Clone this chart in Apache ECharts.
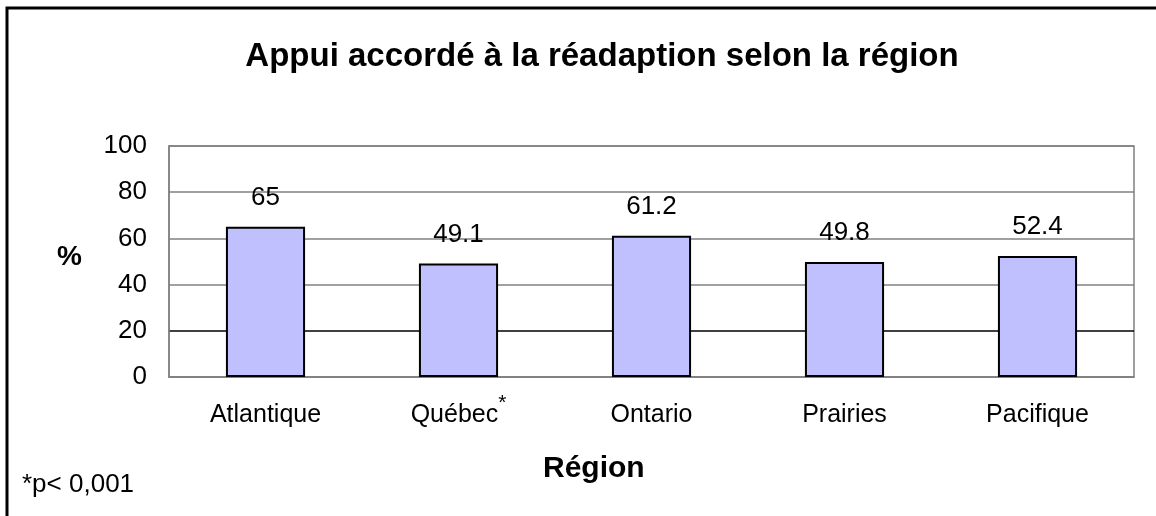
<!DOCTYPE html>
<html>
<head>
<meta charset="utf-8">
<script src="https://cdn.jsdelivr.net/npm/echarts@6/dist/echarts.min.js"></script>
<style>
  html, body { margin: 0; padding: 0; background: #fff; }
  #chart { width: 1156px; height: 516px; }
</style>
</head>
<body>
<div id="chart"></div>
<script>
// données
const regions = ["Atlantique", "Québec", "Ontario", "Prairies", "Pacifique"];
const appui = [65, 49.1, 61.2, 49.8, 52.4];
const significatifs = ["Québec"]; // marqués d'un astérisque
const yTicks = [0, 20, 40, 60, 80, 100];

const FONT = "Liberation Sans, Arial, sans-serif";

const chart = echarts.init(document.getElementById("chart"));

const option = {
  backgroundColor: "#fff",
  animation: false,
  title: {
    text: "Appui accordé à la réadaption selon la région",
    left: 597,
    top: 35,
    textAlign: "center",
    textStyle: { fontFamily: FONT, fontSize: 33, fontWeight: "bold", color: "#000" },
  },
  grid: {
    left: 169,
    right: 22,
    top: 146,
    bottom: 139,
    show: true,
    borderColor: "#808080",
    borderWidth: 1.5,
  },
  xAxis: {
    type: "category",
    data: regions,
    axisLine: { lineStyle: { color: "#808080", width: 1.5 } },
    axisTick: { show: false },
    axisLabel: {
      margin: 16,
      formatter: (v) => "{a|" + v + "}" + (significatifs.includes(v) ? "{s|*}" : ""),
      rich: {
        a: { fontFamily: FONT, fontSize: 25, color: "#000", lineHeight: 44 },
        s: { fontFamily: FONT, fontSize: 21, color: "#000", lineHeight: 20, verticalAlign: "top" },
      },
    },
  },
  yAxis: {
    type: "value",
    min: yTicks[0],
    max: yTicks[yTicks.length - 1],
    interval: yTicks[1] - yTicks[0],
    axisLine: { show: true, lineStyle: { color: "#808080", width: 1.5 } },
    axisTick: { show: false },
    axisLabel: { margin: 22, fontFamily: FONT, fontSize: 26, color: "#000" },
    splitLine: {
      lineStyle: {
        color: ["#808080", "#000", "#808080", "#808080", "#808080", "#808080"],
        width: 1.5,
      },
    },
  },
  series: [
    {
      type: "bar",
      data: appui,
      barWidth: "41%",
      itemStyle: { color: "#C0C0FF", borderColor: "#000", borderWidth: 2 },
      label: {
        show: true,
        position: "top",
        distance: 16,
        fontFamily: FONT,
        fontSize: 26,
        color: "#000",
      },
    },
  ],
  graphic: [
    {
      type: "polyline",
      shape: { points: [[7, 516], [7, 8], [1156, 8]] },
      style: { stroke: "#000", lineWidth: 3, fill: null },
    },
    {
      type: "text",
      left: 57,
      top: 243,
      style: { text: "%", font: "bold 28px " + FONT, fill: "#000" },
    },
    {
      type: "text",
      left: 543,
      top: 454,
      style: { text: "Région", font: "bold 30px " + FONT, fill: "#000" },
    },
    {
      type: "text",
      left: 22,
      top: 472,
      style: { text: "*p< 0,001", font: "26px " + FONT, fill: "#000" },
    },
  ],
};

chart.setOption(option);
</script>
</body>
</html>
